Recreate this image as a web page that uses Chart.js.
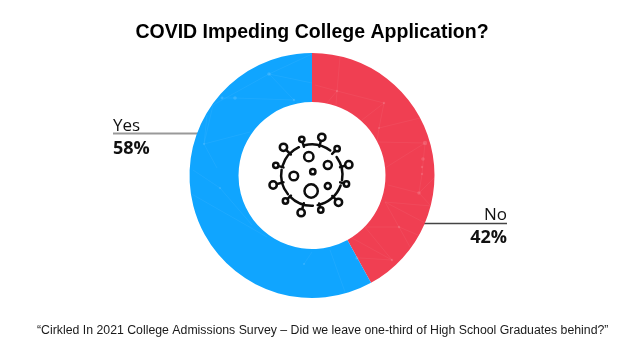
<!DOCTYPE html>
<html>
<head>
<meta charset="utf-8">
<title>COVID Impeding College Application?</title>
<script src="https://cdn.jsdelivr.net/npm/chart.js@4"></script>
<style>
  html, body { margin: 0; padding: 0; background: #fff; }
  #wrap { width: 624px; height: 351px; }
</style>
</head>
<body>
<div id="wrap"><canvas id="surveyChart" width="624" height="351"></canvas></div>
<script>
const categories = ['No', 'Yes'];
const shares = [42, 58];
const sliceColors = ['#F03F52', '#10A5FF'];
const chartTitle = 'COVID Impeding College Application?';
const sourceNote = '\u201CCirkled In 2021 College Admissions Survey \u2013 Did we leave one-third of High School Graduates behind?\u201D';

// faint network texture on the ring, page pixels
const textureLines = [
    [337, 91, 340, 57], [337, 91, 327, 103], [337, 91, 336, 105], [337, 91, 315, 85], [337, 91, 384, 103],
    [384, 103, 362, 120], [384, 103, 379, 128], [379, 128, 420, 118], [379, 128, 377, 142], [377, 142, 425, 143],
    [425, 143, 385, 168], [425, 143, 422, 174], [422, 174, 419, 193], [419, 193, 434, 178], [419, 193, 388, 185],
    [419, 193, 431, 206], [385, 202, 431, 206], [385, 202, 399, 227], [385, 202, 425, 223], [399, 227, 410, 247],
    [399, 227, 365, 227], [399, 227, 418, 235], [352, 238, 392, 260], [365, 227, 392, 260], [392, 260, 360, 258],
    [269, 74, 312, 54], [269, 74, 294, 100], [269, 74, 312, 83], [269, 74, 213, 105], [235, 98, 294, 100],
    [222, 98, 235, 98], [204, 144, 213, 105], [204, 144, 250, 132], [204, 144, 207, 115], [204, 144, 217, 168],
    [220, 188, 193, 170], [220, 188, 252, 225], [188, 192, 267, 237], [304, 264, 312, 252], [330, 250, 345, 292]
];
const textureDots = [
    [337, 91, 1.2], [384, 103, 1.2], [379, 128, 1], [425, 143, 2.2], [423, 159, 1.8], [422, 167, 1.2],
    [422, 174, 1.2], [419, 193, 1.8], [399, 227, 1.2], [392, 260, 1.2], [357, 258, 1.6],
    [269, 74, 1.8], [294, 100, 1.2], [235, 98, 1.8], [222, 98, 1.4], [204, 144, 1], [220, 188, 1], [304, 264, 1]
];

// virus icon, offsets from the ring centre in thirds of a pixel
const virusBubbles = [[-9, -55, 15], [48, -30, 13], [-54, 3, 14], [3, -10, 9], [-2, 48, 21], [48, 33, 10]];
const virusBalls = [
    [30, -113, 12], [76, -79, 9], [111, -31, 12], [104, 27, 9], [80, 82, 12], [27, 105, 9],
    [-32, 113, 12], [-79, 78, 9], [-116, 30, 12], [-108, -29, 9], [-85, -83, 12], [-30, -107, 9]
];
const virusArcs = [[-104, -53], [-36, 10], [20, 79], [88, 136], [141, 190], [197, 245]];

const ringTexture = {
    id: 'ringTexture',
    afterDatasetsDraw(chart) {
        const ctx = chart.ctx;
        const arc = chart.getDatasetMeta(0).data[0];
        ctx.save();
        ctx.beginPath();
        ctx.arc(arc.x, arc.y, arc.outerRadius, 0, Math.PI * 2);
        ctx.arc(arc.x, arc.y, arc.innerRadius, 0, Math.PI * 2, true);
        ctx.clip();
        ctx.strokeStyle = 'rgba(255,255,255,0.07)';
        ctx.fillStyle = 'rgba(255,255,255,0.14)';
        ctx.lineWidth = 0.8;
        textureLines.forEach(l => {
            ctx.beginPath();
            ctx.moveTo(l[0], l[1]);
            ctx.lineTo(l[2], l[3]);
            ctx.stroke();
        });
        textureDots.forEach(d => {
            ctx.beginPath();
            ctx.arc(d[0], d[1], d[2], 0, Math.PI * 2);
            ctx.fill();
        });
        ctx.restore();
    }
};

const virusIcon = {
    id: 'virusIcon',
    afterDraw(chart) {
        const ctx = chart.ctx;
        const arc = chart.getDatasetMeta(0).data[0];
        const cx = arc.x - 0.2, cy = arc.y - 0.5;
        const bodyR = 92;
        ctx.save();
        ctx.translate(cx, cy);
        ctx.scale(1 / 3, 1 / 3);
        ctx.strokeStyle = '#0d0d0d';
        ctx.lineWidth = 7.5;
        ctx.lineCap = 'round';
        virusArcs.forEach(a => {
            ctx.beginPath();
            ctx.arc(0, 0, bodyR, a[0] * Math.PI / 180, a[1] * Math.PI / 180);
            ctx.stroke();
        });
        virusBubbles.forEach(b => {
            ctx.beginPath();
            ctx.arc(b[0], b[1], b[2] - 1, 0, Math.PI * 2);
            ctx.stroke();
        });
        virusBalls.forEach(b => {
            const len = Math.hypot(b[0], b[1]);
            const ux = b[0] / len, uy = b[1] / len;
            ctx.beginPath();
            ctx.arc(b[0], b[1], b[2] - 1, 0, Math.PI * 2);
            ctx.stroke();
            ctx.beginPath();
            ctx.moveTo(ux * (len - b[2]), uy * (len - b[2]));
            ctx.lineTo(ux * (bodyR - 4), uy * (bodyR - 4));
            ctx.stroke();
        });
        ctx.restore();
    }
};

const sliceCallouts = {
    id: 'sliceCallouts',
    beforeDatasetsDraw(chart) {
        const ctx = chart.ctx;
        ctx.save();
        ctx.strokeStyle = '#999999';
        ctx.lineWidth = 2;
        ctx.beginPath();
        ctx.moveTo(113, 133.5);
        ctx.lineTo(200, 133.5);
        ctx.stroke();
        ctx.strokeStyle = '#444444';
        ctx.lineWidth = 1.5;
        ctx.beginPath();
        ctx.moveTo(420, 223.5);
        ctx.lineTo(507, 223.5);
        ctx.stroke();
        ctx.restore();
    },
    afterDraw(chart) {
        const ctx = chart.ctx;
        ctx.save();
        ctx.fillStyle = '#111111';
        ctx.textAlign = 'left';
        ctx.font = '17px "Open Sans"';
        ctx.fillText(categories[1], 113, 131);
        ctx.font = 'bold 18px "Open Sans"';
        ctx.fillText(shares[1] + '%', 113, 154);
        ctx.textAlign = 'right';
        ctx.font = '17px "Open Sans"';
        ctx.fillText(categories[0], 507, 220);
        ctx.font = 'bold 18px "Open Sans"';
        ctx.fillText(shares[0] + '%', 507, 243);
        // source line sits off centre in the original, so it is not a subtitle box
        ctx.textAlign = 'left';
        ctx.fillStyle = '#1a1a1a';
        ctx.font = '12.3px "Liberation Sans"';
        ctx.fillText(sourceNote, 37, 334);
        ctx.restore();
    }
};

new Chart(document.getElementById('surveyChart').getContext('2d'), {
    type: 'doughnut',
    data: {
        labels: categories,
        datasets: [{
            data: shares,
            backgroundColor: sliceColors,
            borderWidth: 0
        }]
    },
    options: {
        responsive: false,
        maintainAspectRatio: false,
        cutout: '60%',
        layout: { padding: { bottom: 53 } },
        animation: false,
        plugins: {
            legend: { display: false },
            tooltip: { enabled: false },
            title: {
                display: true,
                text: chartTitle,
                color: '#000',
                font: { family: '"Liberation Sans"', size: 19.5, weight: 'bold' },
                padding: { top: 21, bottom: 8.6 }
            }
        }
    },
    plugins: [ringTexture, sliceCallouts, virusIcon]
});
</script>
</body>
</html>
